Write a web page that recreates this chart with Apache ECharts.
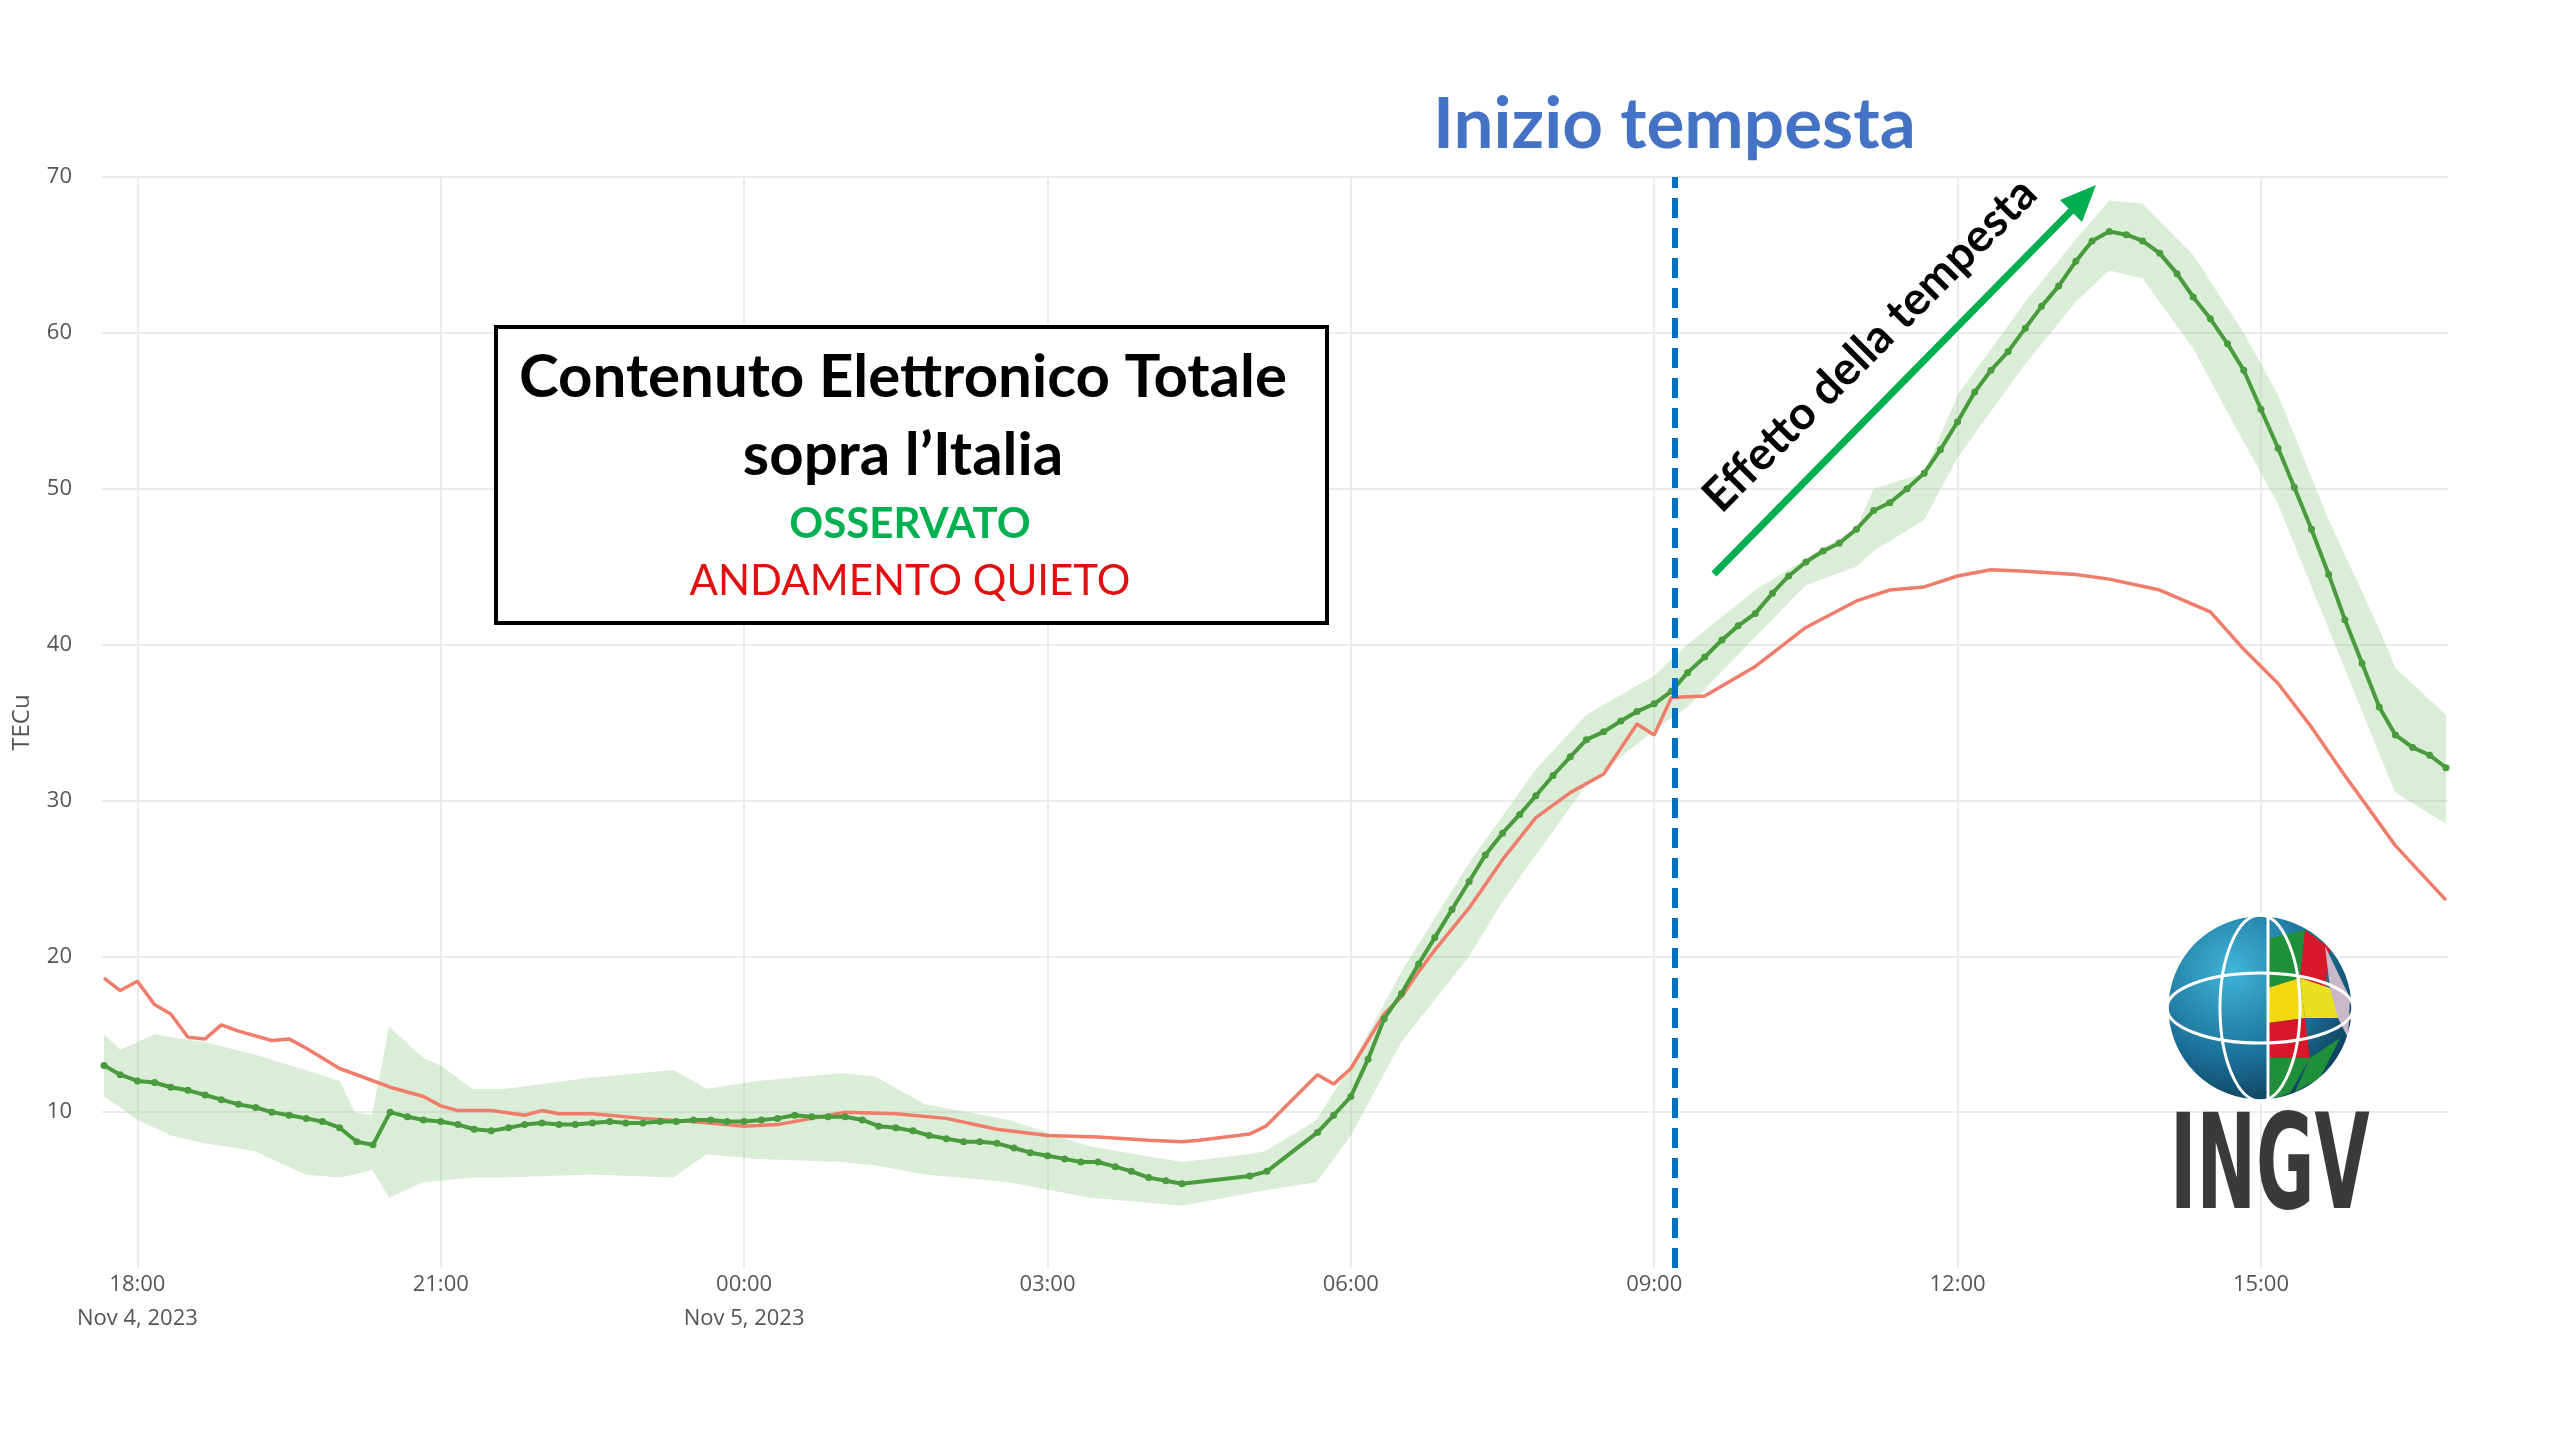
<!DOCTYPE html>
<html>
<head>
<meta charset="utf-8">
<script src="https://cdn.jsdelivr.net/npm/echarts@6/dist/echarts.min.js"></script>
<style>html,body{margin:0;padding:0;background:#fff}#chart{width:2560px;height:1440px}</style>
</head>
<body>
<div id="chart"></div>
<script>
// hours from 18:00 Nov 4, 2023
var tickHours = [0, 3, 6, 9, 12, 15, 18, 21];
var tickLabels = ["18:00\nNov 4, 2023", "21:00", "00:00\nNov 5, 2023", "03:00", "06:00", "09:00", "12:00", "15:00"];
var yTicks = [10, 20, 30, 40, 50, 60, 70];

var greenT = [-0.33, -0.17, 0, 0.17, 0.33, 0.5, 0.67, 0.83, 1, 1.17, 1.33, 1.5, 1.67, 1.83, 2, 2.17, 2.33, 2.5, 2.67, 2.83,
  3, 3.17, 3.33, 3.5, 3.67, 3.83, 4, 4.17, 4.33, 4.5, 4.67, 4.83, 5, 5.17, 5.33, 5.5, 5.67, 5.83, 6, 6.17,
  6.33, 6.5, 6.67, 6.83, 7, 7.17, 7.33, 7.5, 7.67, 7.83, 8, 8.17, 8.33, 8.5, 8.67, 8.83, 9, 9.17, 9.33, 9.5,
  9.67, 9.83, 10, 10.17, 10.33, 11, 11.17, 11.67, 11.83, 12, 12.17, 12.33, 12.5, 12.67, 12.83, 13, 13.17, 13.33, 13.5, 13.67,
  13.83, 14, 14.17, 14.33, 14.5, 14.67, 14.83, 15, 15.17, 15.33, 15.5, 15.67, 15.83, 16, 16.17, 16.33, 16.5, 16.67, 16.83, 17,
  17.17, 17.33, 17.5, 17.67, 17.83, 18, 18.17, 18.33, 18.5, 18.67, 18.83, 19, 19.17, 19.33, 19.5, 19.67, 19.83, 20, 20.17, 20.33,
  20.5, 20.67, 20.83, 21, 21.17, 21.33, 21.5, 21.67, 21.83, 22, 22.17, 22.33, 22.5, 22.67, 22.83];
var greenV = [13.0, 12.4, 12.0, 11.9, 11.6, 11.4, 11.1, 10.8, 10.5, 10.3, 10.0, 9.8, 9.6, 9.4, 9.0, 8.1, 7.9, 10.0, 9.7, 9.5,
  9.4, 9.2, 8.9, 8.8, 9.0, 9.2, 9.3, 9.2, 9.2, 9.3, 9.4, 9.3, 9.3, 9.4, 9.4, 9.5, 9.5, 9.4, 9.4, 9.5,
  9.6, 9.8, 9.7, 9.7, 9.7, 9.5, 9.1, 9.0, 8.8, 8.5, 8.3, 8.1, 8.1, 8.0, 7.7, 7.4, 7.2, 7.0, 6.8, 6.8,
  6.5, 6.2, 5.8, 5.6, 5.4, 5.9, 6.2, 8.7, 9.8, 11.0, 13.4, 16.0, 17.6, 19.5, 21.2, 23.0, 24.8, 26.5, 27.9, 29.1,
  30.3, 31.6, 32.8, 33.9, 34.4, 35.1, 35.7, 36.2, 37.0, 38.2, 39.2, 40.3, 41.2, 42.0, 43.3, 44.4, 45.3, 46.0, 46.5, 47.4,
  48.6, 49.1, 50.0, 51.0, 52.5, 54.3, 56.2, 57.6, 58.8, 60.3, 61.7, 63.0, 64.6, 65.9, 66.5, 66.3, 65.9, 65.1, 63.8, 62.3,
  60.9, 59.3, 57.6, 55.1, 52.6, 50.1, 47.4, 44.5, 41.6, 38.8, 36.0, 34.2, 33.4, 32.9, 32.1];

var redT = [-0.33, -0.17, 0, 0.17, 0.33, 0.5, 0.67, 0.83, 1, 1.33, 1.5, 1.67, 2, 2.5, 2.83, 3, 3.17, 3.5, 3.83, 4,
  4.17, 4.5, 5, 5.5, 6, 6.33, 6.67, 7, 7.5, 8, 8.5, 9, 9.5, 10, 10.33, 10.5, 11, 11.16, 11.67, 11.83,
  12, 12.33, 12.5, 12.67, 12.83, 13.17, 13.5, 13.83, 14.17, 14.5, 14.83, 15, 15.17, 15.5, 16, 16.5, 17, 17.33, 17.67, 18,
  18.33, 18.67, 19.17, 19.5, 20, 20.5, 20.83, 21.17, 21.5, 21.83, 22.33, 22.83];
var redV = [18.6, 17.8, 18.4, 16.9, 16.3, 14.8, 14.7, 15.6, 15.2, 14.6, 14.7, 14.1, 12.8, 11.6, 11.0, 10.4, 10.1, 10.1, 9.8, 10.1,
  9.9, 9.9, 9.6, 9.4, 9.1, 9.2, 9.6, 10.0, 9.9, 9.6, 8.9, 8.5, 8.4, 8.2, 8.1, 8.2, 8.6, 9.1, 12.4, 11.8,
  12.8, 16.3, 17.4, 19.0, 20.4, 23.1, 26.2, 28.9, 30.5, 31.7, 34.9, 34.2, 36.6, 36.7, 38.6, 41.1, 42.8, 43.5, 43.7, 44.4,
  44.8, 44.7, 44.5, 44.2, 43.5, 42.1, 39.7, 37.5, 34.7, 31.6, 27.1, 23.6];

var bandT = [-0.33, -0.17, 0, 0.17, 0.33, 0.66, 1.16, 1.66, 2.0, 2.15, 2.32, 2.49, 2.82, 3.0, 3.31, 3.65, 4.47, 5.3, 5.63, 6.13,
  6.96, 7.29, 7.79, 8.62, 9.42, 10.33, 10.99, 11.16, 11.66, 12, 12.5, 13.17, 13.5, 13.83, 14.33, 15, 15.33, 16, 16.5, 17,
  17.17, 17.67, 18, 18.67, 19.17, 19.5, 19.83, 20.33, 20.83, 21.17, 21.67, 22.17, 22.33, 22.83];
var bandHigh = [15, 14, 14.5, 15, 14.8, 14.5, 13.7, 12.7, 12, 10, 9.8, 15.5, 13.5, 13, 11.5, 11.5, 12.2, 12.7, 11.5, 12,
  12.5, 12.3, 10.5, 9.5, 7.8, 6.8, 7.3, 7.5, 9.5, 13, 19, 26, 29, 32, 35.5, 38, 40, 43.5, 45.5, 47.5,
  50, 51, 56, 62, 66, 68.5, 68.3, 65, 60, 56, 48, 41, 38.5, 35.5];
var bandLow = [11, 10.3, 9.5, 9, 8.5, 8, 7.5, 6, 5.8, 6, 6.3, 4.5, 5.5, 5.6, 5.8, 5.8, 6, 5.8, 7.3, 7,
  6.8, 6.6, 6, 5.5, 4.5, 4, 4.8, 5, 5.5, 8.5, 14.5, 20, 23.5, 26.5, 31, 34.5, 36, 40.5, 43.8, 45,
  46, 48, 52, 58, 62, 64, 63.5, 59, 53, 49, 41, 33, 30.5, 28.5];

var stormStart = 15.2;

function pairs(xs, ys) {
  var out = [];
  for (var i = 0; i < xs.length; i++) out.push([xs[i], ys[i]]);
  return out;
}

var chart = echarts.init(document.getElementById("chart"));

// band polygon drawn through the axis scales
function renderBand(params, api) {
  var pts = [];
  for (var i = 0; i < bandT.length; i++) pts.push(api.coord([bandT[i], bandHigh[i]]));
  for (var j = bandT.length - 1; j >= 0; j--) pts.push(api.coord([bandT[j], bandLow[j]]));
  return { type: "polygon", shape: { points: pts }, style: { fill: "rgba(150,205,140,0.35)" } };
}

// globe logo pieces (INGV)
var gx = 2260, gy = 1008, gr = 93;
var logo = [
  { type: "circle", shape: { cx: gx, cy: gy, r: gr }, z: 10,
    style: { fill: new echarts.graphic.RadialGradient(0.35, 0.3, 0.8, [
      { offset: 0, color: "#3fb6d8" }, { offset: 0.6, color: "#1a6f96" }, { offset: 1, color: "#0c3550" }]) } },
  { type: "polygon", z: 11, shape: { points: [[gx + 10, gy - 70], [gx + 45, gy - 78], [gx + 40, gy - 30], [gx + 8, gy - 20]] }, style: { fill: "#1f8f3a" } },
  { type: "polygon", z: 11, shape: { points: [[gx + 45, gy - 78], [gx + 70, gy - 60], [gx + 65, gy - 20], [gx + 40, gy - 30]] }, style: { fill: "#d7182a" } },
  { type: "polygon", z: 11, shape: { points: [[gx + 8, gy - 20], [gx + 40, gy - 30], [gx + 45, gy + 10], [gx + 8, gy + 15]] }, style: { fill: "#f2d80f" } },
  { type: "polygon", z: 11, shape: { points: [[gx + 40, gy - 30], [gx + 70, gy - 20], [gx + 80, gy + 10], [gx + 45, gy + 10]] }, style: { fill: "#e8e020" } },
  { type: "polygon", z: 11, shape: { points: [[gx + 8, gy + 15], [gx + 45, gy + 10], [gx + 50, gy + 50], [gx + 10, gy + 50]] }, style: { fill: "#d7182a" } },
  { type: "polygon", z: 11, shape: { points: [[gx + 65, gy - 62], [gx + 90, gy - 10], [gx + 88, gy + 30], [gx + 78, gy + 10], [gx + 70, gy - 20]] }, style: { fill: "#c8b8c8" } },
  { type: "polygon", z: 11, shape: { points: [[gx + 10, gy + 50], [gx + 50, gy + 50], [gx + 30, gy + 85], [gx + 10, gy + 92]] }, style: { fill: "#1f8f3a" } },
  { type: "polygon", z: 11, shape: { points: [[gx + 50, gy + 50], [gx + 80, gy + 30], [gx + 60, gy + 70], [gx + 35, gy + 84]] }, style: { fill: "#1f8f3a" } },
  { type: "circle", z: 12, shape: { cx: gx, cy: gy, r: gr }, style: { fill: "none", stroke: "#fff", lineWidth: 3 } },
  { type: "ellipse", z: 12, shape: { cx: gx, cy: gy, rx: 40, ry: gr }, style: { fill: "none", stroke: "#fff", lineWidth: 3 } },
  { type: "ellipse", z: 12, shape: { cx: gx, cy: gy, rx: gr, ry: 35 }, style: { fill: "none", stroke: "#fff", lineWidth: 3 } },
  { type: "line", z: 12, shape: { x1: gx + 8, y1: gy - gr, x2: gx + 8, y2: gy + gr }, style: { stroke: "#fff", lineWidth: 3 } },
  { type: "text", z: 12, x: 2170, y: 1108, scaleX: 0.6,
    style: { text: "INGV", font: "bold 132px 'DejaVu Sans Condensed'", fill: "#3a3a3a" } }
];

var option = {
  animation: false,
  backgroundColor: "#fff",
  grid: { left: 102, right: 112, top: 177, bottom: 172 },
  xAxis: {
    type: "value", min: -0.35, max: 22.85,
    axisLine: { show: false }, axisTick: { show: false, customValues: tickHours },
    splitLine: { show: true, lineStyle: { color: "#ebebeb", width: 2 } },
    axisLabel: {
      customValues: tickHours, color: "#555", fontSize: 22, fontFamily: "Open Sans", lineHeight: 34, margin: 0,
      formatter: function (v) { return tickLabels[tickHours.indexOf(v)]; }
    }
  },
  yAxis: {
    type: "value", min: 0, max: 70,
    name: "TECu", nameLocation: "middle", nameGap: 68, nameRotate: 90,
    nameTextStyle: { color: "#555", fontSize: 24, fontFamily: "Open Sans" },
    axisLine: { show: false }, axisTick: { show: false, customValues: yTicks },
    splitLine: { lineStyle: { color: "#ebebeb", width: 2 } },
    axisLabel: { customValues: yTicks, color: "#555", fontSize: 22, fontFamily: "Open Sans", margin: 30 }
  },
  series: [
    { name: "band", type: "custom", data: [[bandT[0], bandLow[0]]], renderItem: renderBand, silent: true, clip: true },
    { name: "ANDAMENTO QUIETO", type: "line", data: pairs(redT, redV), symbol: "none",
      lineStyle: { color: "#f07c6c", width: 3.5 } },
    { name: "OSSERVATO", type: "line", data: pairs(greenT, greenV), symbol: "circle", symbolSize: 7,
      itemStyle: { color: "#4a9a3e" }, lineStyle: { color: "#4a9a3e", width: 4 },
      markLine: {
        symbol: "none", silent: true, label: { show: false },
        lineStyle: { color: "#0070c0", width: 6, type: [20, 10] },
        data: [{ xAxis: stormStart }]
      } }
  ],
  graphic: [
    { type: "text", z: 20, x: 1433, y: 90,
      style: { text: "Inizio tempesta", font: "bold 71px Lato", fill: "#4472c4" } },
    { type: "rect", z: 20, shape: { x: 496, y: 327, width: 831, height: 296 },
      style: { fill: "#fff", stroke: "#000", lineWidth: 4 } },
    { type: "text", z: 21, x: 903, y: 378, style: { text: "Contenuto Elettronico Totale", font: "bold 60px Lato", fill: "#000", align: "center", verticalAlign: "middle" } },
    { type: "text", z: 21, x: 903, y: 456, style: { text: "sopra l\u2019Italia", font: "bold 60px Lato", fill: "#000", align: "center", verticalAlign: "middle" } },
    { type: "text", z: 21, x: 910, y: 524, style: { text: "OSSERVATO", font: "bold 42px Lato", fill: "#00b050", align: "center", verticalAlign: "middle" } },
    { type: "text", z: 21, x: 910, y: 581, style: { text: "ANDAMENTO QUIETO", font: "42px Lato", fill: "#e01010", align: "center", verticalAlign: "middle" } },
    { type: "line", z: 20, shape: { x1: 1714, y1: 574, x2: 2075, y2: 207 }, style: { stroke: "#00b050", lineWidth: 7 } },
    { type: "polygon", z: 20, shape: { points: [[2096, 185], [2060, 200], [2082, 222]] }, style: { fill: "#00b050" } },
    { type: "text", z: 20, x: 1870, y: 345, rotation: Math.PI / 4,
      style: { text: "Effetto della tempesta", font: "bold 46px Lato", fill: "#000", align: "center", verticalAlign: "middle" } }
  ].concat(logo)
};

chart.setOption(option);
</script>
</body>
</html>
